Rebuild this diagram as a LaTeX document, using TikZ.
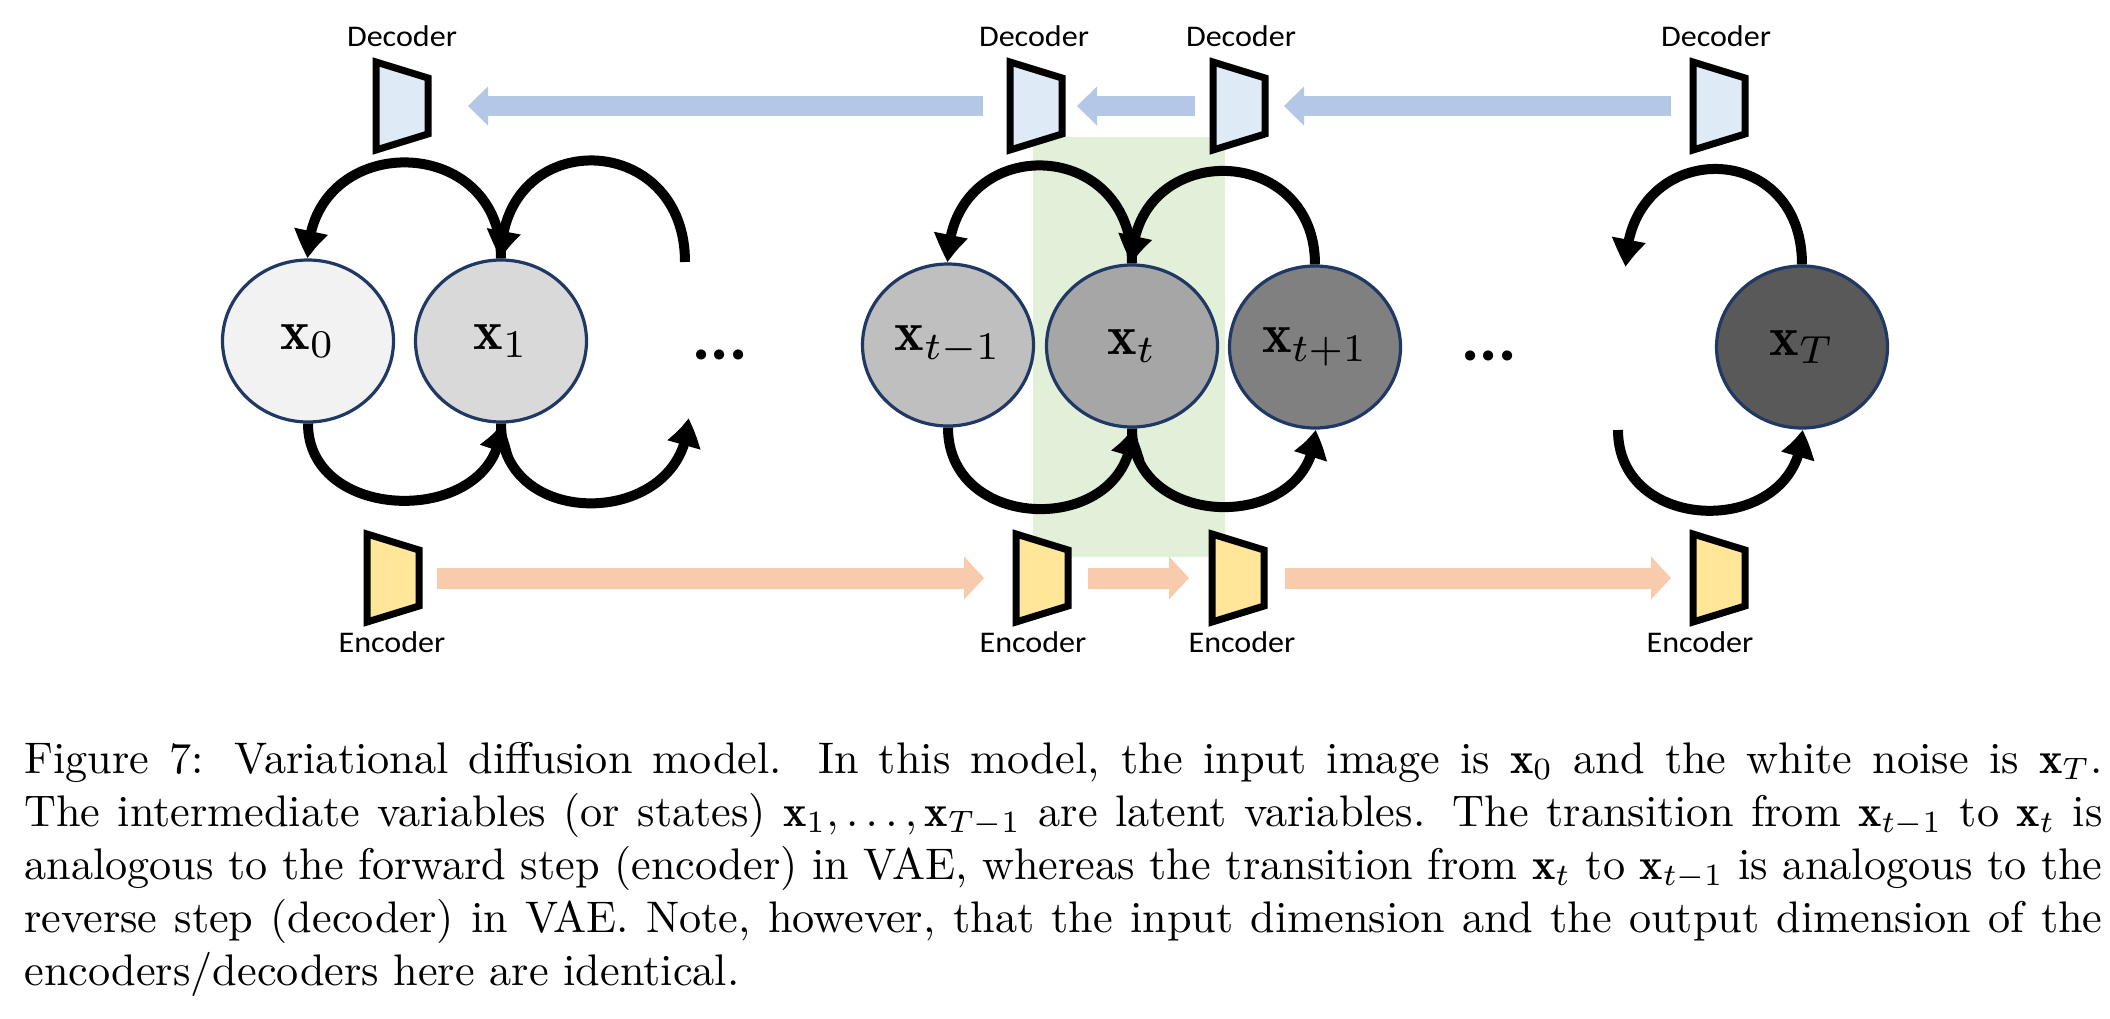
\documentclass[tikz,border=0pt]{standalone}
\usepackage{fontspec}
\newfontfamily\calib{Carlito}
\usetikzlibrary{arrows.meta,bending,calc,shapes.geometric}
\definecolor{navy}{HTML}{1F3864}
\definecolor{arrblue}{HTML}{B4C7E7}
\definecolor{arrorange}{HTML}{F8CBAD}
\definecolor{decfill}{HTML}{DEEBF7}
\definecolor{encfill}{HTML}{FFE699}
\definecolor{greenbg}{HTML}{E2F0D9}
\newcommand\wlab[1]{\scalebox{1.07}[1]{#1}}
\newcommand\mlab[1]{\scalebox{2.8}{$#1$}}
\begin{document}
\begin{tikzpicture}[x=0.5pt,y=0.5pt,
  state/.style={ellipse, draw=navy, line width=1.6pt, minimum width=85.5pt, minimum height=81pt, inner sep=0pt},
  trapbox/.style={minimum width=26pt, minimum height=44pt, inner sep=0pt, outer sep=0pt},
  trapline/.style={draw=black, line width=3.5pt, line join=miter},
  lab/.style={font=\calib\fontsize{15}{18}\selectfont, inner sep=0pt},
  dots/.style={font=\calib\bfseries\fontsize{34}{40}\selectfont, inner sep=0pt, anchor=base},
  barrow/.style={draw=arrblue, line width=10pt, -{Triangle[length=10pt,width=19pt]}},
  oarrow/.style={draw=arrorange, line width=10.5pt, -{Triangle[length=10pt,width=21pt]}},
  curve/.style={draw=black, line width=5pt, -{Triangle[length=14pt,width=16pt,bend]}},
]
\useasboundingbox (0,0) rectangle (2110,-1018);
\fill[white] (0,0) rectangle (2110,-1018);

% highlighted column
\node[fill=greenbg, minimum width=96pt, minimum height=210pt, inner sep=0pt] (hl) at (1129,-347) {};

% decoder and encoder boxes (positions)
\node[trapbox] (D1) at (402,-106) {};
\node[trapbox] (D2) at (1036,-106) {};
\node[trapbox] (D3) at (1239,-106) {};
\node[trapbox] (D4) at (1719,-106) {};
\node[trapbox] (E1) at (393,-578) {};
\node[trapbox] (E2) at (1042,-578) {};
\node[trapbox] (E3) at (1238,-578) {};
\node[trapbox] (E4) at (1719,-578) {};

% wide arrows
\draw[barrow, shorten <=13.5pt, shorten >=20pt] (D2.west) -- (D1.east);
\draw[barrow, shorten <=9pt, shorten >=7.5pt] (D3.west) -- (D2.east);
\draw[barrow, shorten <=11pt, shorten >=9.5pt] (D4.west) -- (D3.east);
\draw[oarrow, shorten <=9pt, shorten >=16pt] (E1.east) -- (E2.west);
\draw[oarrow, shorten <=10pt, shorten >=11.5pt] (E2.east) -- (E3.west);
\draw[oarrow, shorten <=10.5pt, shorten >=11pt] (E3.east) -- (E4.west);

% trapezoids
\foreach \n in {D1,D2,D3,D4}{
  \draw[trapline, fill=decfill] (\n.north west) -- (\n.south west) -- ([yshift=8pt]\n.south east) -- ([yshift=-8pt]\n.north east) -- cycle;
}
\foreach \n in {E1,E2,E3,E4}{
  \draw[trapline, fill=encfill] (\n.north west) -- (\n.south west) -- ([yshift=8pt]\n.south east) -- ([yshift=-8pt]\n.north east) -- cycle;
}

% labels
\node[lab] (dl1) at (402,-36) {\wlab{Decoder}};
\node[lab] (dl2) at (1034,-36) {\wlab{Decoder}};
\node[lab] (dl3) at (1241,-36) {\wlab{Decoder}};
\node[lab] (dl4) at (1716,-36) {\wlab{Decoder}};
\node[lab] (el1) at (392,-642) {\wlab{Encoder}};
\node[lab] (el2) at (1033,-642) {\wlab{Encoder}};
\node[lab] (el3) at (1242,-642) {\wlab{Encoder}};
\node[lab] (el4) at (1700,-642) {\wlab{Encoder}};

% states
\node[state, fill={rgb,255:red,242;green,242;blue,242}] (x0) at (308,-341) {\mlab{\mathbf{x}_0}};
\node[state, fill={rgb,255:red,217;green,217;blue,217}] (x1) at (501,-341) {\mlab{\mathbf{x}_1}};
\node[state, fill={rgb,255:red,191;green,191;blue,191}] (xtm) at (948,-345) {\mlab{\mathbf{x}_{t-1}}};
\node[state, fill={rgb,255:red,166;green,166;blue,166}] (xt) at (1132,-346) {\mlab{\mathbf{x}_{t}}};
\node[state, fill={rgb,255:red,128;green,128;blue,128}] (xtp) at (1315,-347) {\mlab{\mathbf{x}_{t+1}}};
\node[state, fill={rgb,255:red,89;green,89;blue,89}] (xT) at (1802,-347) {\mlab{\mathbf{x}_{T}}};

\node[dots] (dots1) at (720,-359) {...};
\node[dots] (dots2) at (1489,-360) {...};

% free ends
\coordinate (fB) at (685,-262);
\coordinate (fE) at (1626,-267);
\coordinate (fG) at (688,-418);
\coordinate (fJ) at (1618,-430);

% reverse (decoder) arcs
\draw[curve] (x1.north) .. controls +(0,128) and +(0,128) .. (x0.north);
\draw[curve] (fB) .. controls +(0,133) and +(0,133) .. (x1.north);
\draw[curve] (xt.north) .. controls +(0,130) and +(0,130) .. (xtm.north);
\draw[curve] (xtp.north) .. controls +(0,124) and +(0,124) .. (xt.north);
\draw[curve] (xT.north) .. controls +(0,129) and +(0,129) .. (fE);

% forward (encoder) arcs
\draw[curve] (x0.south) .. controls +(0,-103) and +(0,-103) .. (x1.south);
\draw[curve] (x1.south) .. controls +(0,-110) and +(0,-110) .. (fG);
\draw[curve] (xtm.south) .. controls +(0,-108) and +(0,-108) .. (xt.south);
\draw[curve] (xt.south) .. controls +(0,-104) and +(0,-104) .. (xtp.south);
\draw[curve] (fJ) .. controls +(0,-108) and +(0,-108) .. (xT.south);

% caption
\node[anchor=base west, inner sep=0pt] (cap) at (24,-773) {\scalebox{2.212}{\parbox[t]{469.75pt}{\fontsize{10}{12}\selectfont
Figure 7: Variational diffusion model. In this model, the input image is $\mathbf{x}_0$ and the white noise is $\mathbf{x}_T$.\linebreak
The intermediate variables (or states) $\mathbf{x}_1,\ldots,\mathbf{x}_{T-1}$ are latent variables. The transition from $\mathbf{x}_{t-1}$ to $\mathbf{x}_t$ is\linebreak
analogous to the forward step (encoder) in VAE, whereas the transition from $\mathbf{x}_t$ to $\mathbf{x}_{t-1}$ is analogous to the\linebreak
reverse step (decoder) in VAE. Note, however, that the input dimension and the output dimension of the\linebreak
encoders/decoders here are identical.}}};
\end{tikzpicture}
\end{document}
